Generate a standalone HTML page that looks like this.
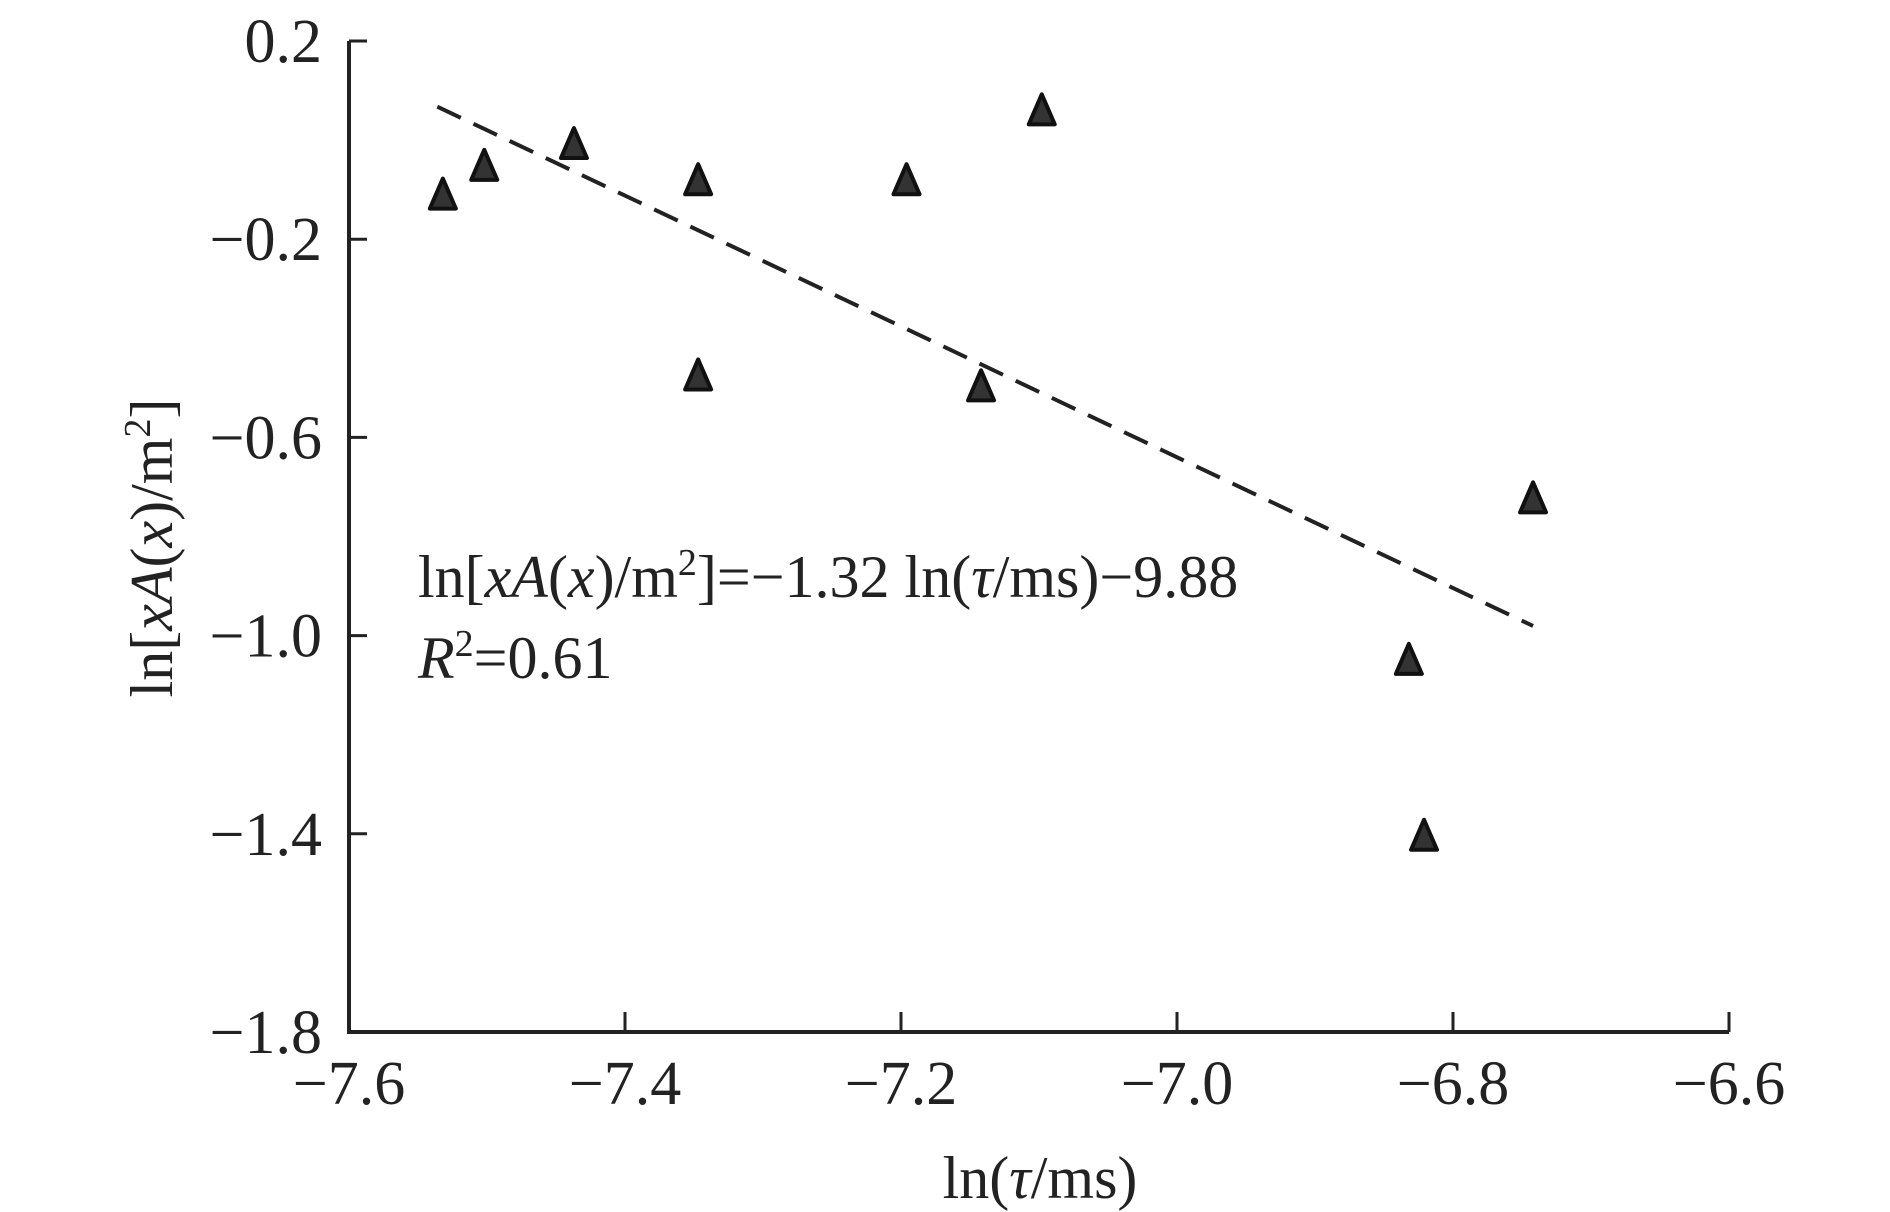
<!DOCTYPE html>
<html><head><meta charset="utf-8"><style>
html,body{margin:0;padding:0;background:#fff}
svg{display:block}
text{font-family:"Liberation Serif",serif;fill:#222}
</style></head><body>
<svg id="chart" width="1890" height="1212" viewBox="0 0 1890 1212">
<g id="axes"></g>
<g id="fit"></g>
<g id="pts"></g>
<text x="418" y="597" font-size="60">ln[<tspan font-style="italic">xA</tspan>(<tspan font-style="italic">x</tspan>)/m<tspan font-size="38" dy="-22">2</tspan><tspan dy="22">]=−1.32 ln(</tspan><tspan font-style="italic">τ</tspan>/ms)−9.88</text>
<text x="418" y="678" font-size="60"><tspan font-style="italic">R</tspan><tspan font-size="38" dy="-22">2</tspan><tspan dy="22">=0.61</tspan></text>
<text x="1040" y="1198" font-size="60" text-anchor="middle">ln(<tspan font-style="italic">τ</tspan>/ms)</text>
<text transform="translate(172,548) rotate(-90)" font-size="60" text-anchor="middle">ln[<tspan font-style="italic">xA</tspan>(<tspan font-style="italic">x</tspan>)/m<tspan font-size="38" dy="-22">2</tspan><tspan dy="22">]</tspan></text>
</svg>
<script>
const xVals=[-7.532,-7.502,-7.437,-7.347,-7.347,-7.196,-7.142,-7.098,-6.742,-6.832,-6.821];
const yVals=[-0.114,-0.056,-0.012,-0.085,-0.479,-0.085,-0.501,0.056,-0.727,-1.053,-1.408];
const xTicks=[-7.6,-7.4,-7.2,-7.0,-6.8,-6.6];
const xTickLabels=["−7.6","−7.4","−7.2","−7.0","−6.8","−6.6"];
const yTicks=[0.2,-0.2,-0.6,-1.0,-1.4,-1.8];
const yTickLabels=["0.2","−0.2","−0.6","−1.0","−1.4","−1.8"];
const fitSlope=-1.32, fitIntercept=-9.88, fitRange=[-7.536,-6.742];
const X0=349,X1=1729,Y0=41,Y1=1032;
const sx=v=>X0+(v+7.6)/1.0*(X1-X0);
const sy=v=>Y0+(0.2-v)/2.0*(Y1-Y0);
const NS="http://www.w3.org/2000/svg";
function mk(tag,attrs,parent){const e=document.createElementNS(NS,tag);for(const k in attrs)e.setAttribute(k,attrs[k]);parent.appendChild(e);return e;}
const ax=document.getElementById('axes');
let l=mk('path',{d:`M${X0},${Y0} L${X0},${Y1} L${X1},${Y1}`,fill:'none',stroke:'#222','stroke-width':4},ax);


xTicks.forEach((t,i)=>{
 const x=sx(t);
 const tk=mk('line',{x1:x,x2:x,y1:Y1,y2:Y1-20,stroke:'#222','stroke-width':3},ax);
 
 
 const tx=mk('text',{x:x,y:1104,'font-size':62,'text-anchor':'middle'},ax);
 tx.textContent=xTickLabels[i];
 
 
});
yTicks.forEach((t,i)=>{
 const y=sy(t);
 const tk=mk('line',{x1:X0,x2:X0+18,y1:y,y2:y,stroke:'#222','stroke-width':3},ax);
 
 
 const tx=mk('text',{x:322,y:y+21,'font-size':62,'text-anchor':'end'},ax);
 tx.textContent=yTickLabels[i];
 
 
});
const fit=document.getElementById('fit');
const fl=mk('line',{x1:sx(fitRange[0]),y1:sy(fitSlope*fitRange[0]+fitIntercept),x2:sx(fitRange[1]),y2:sy(fitSlope*fitRange[1]+fitIntercept),stroke:'#222','stroke-width':4,'stroke-dasharray':'26 14'},fit);


const pts=document.getElementById('pts');
xVals.forEach((xv,i)=>{
 const x=sx(xv),y=sy(yVals[i]);
 const p=mk('path',{d:`M${x},${y-18} L${x+13},${y+12} L${x-13},${y+12} Z`,fill:'#333',stroke:'#111','stroke-width':4,'stroke-linejoin':'round'},pts);
 
 
});
</script>
</body></html>
